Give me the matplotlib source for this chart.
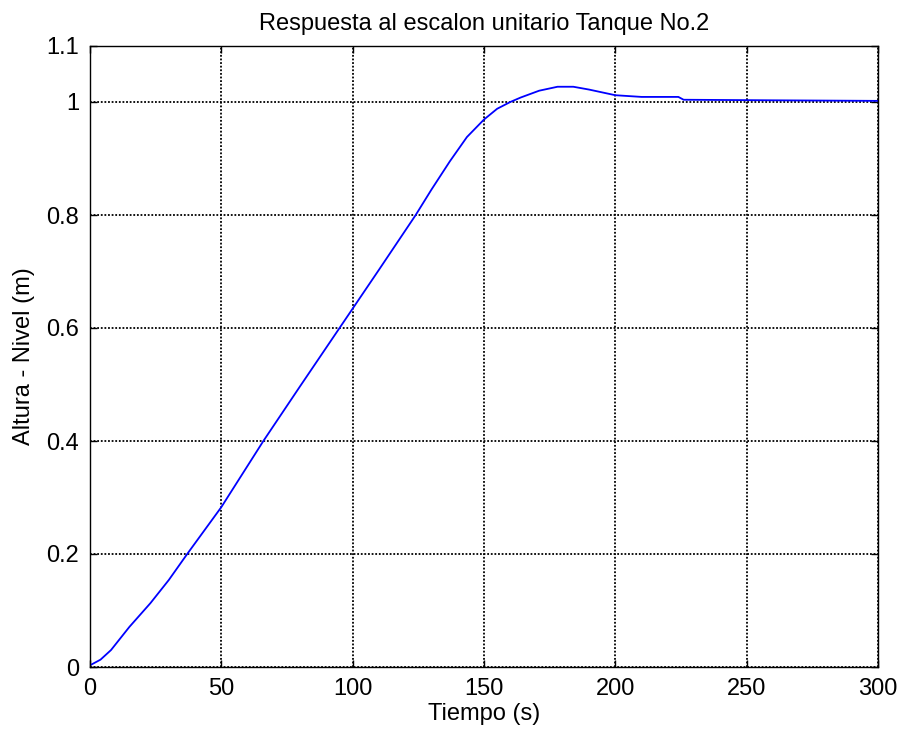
import matplotlib
matplotlib.use("Agg")
from matplotlib import pyplot as plt

# step response
t = [0, 4, 8, 15, 23, 30, 37, 50, 66, 80, 95, 110, 124, 130, 137, 143.5, 150,
     155, 160, 164, 171, 178, 184, 190, 196, 200, 210, 224, 226, 260, 300]
nivel = [0.003, 0.013, 0.03, 0.071, 0.113, 0.154, 0.2, 0.283, 0.4, 0.497, 0.6,
         0.703, 0.8, 0.845, 0.895, 0.938, 0.969, 0.988, 1.0, 1.008, 1.02, 1.027,
         1.027, 1.022, 1.016, 1.012, 1.009, 1.009, 1.004, 1.003, 1.002]

xticks = [0, 50, 100, 150, 200, 250, 300]
yticks = [0, 0.2, 0.4, 0.6, 0.8, 1, 1.1]
yticklabels = ["0", "0.2", "0.4", "0.6", "0.8", "1", "1.1"]

plt.rcParams["font.family"] = ["Liberation Sans", "DejaVu Sans"]
fs = 17

fig = plt.figure(figsize=(9.06, 7.38), dpi=100)
ax = fig.add_axes([90 / 906, 71 / 738, 788 / 906, 621.5 / 738])

ax.plot(t, nivel, color=(0, 0, 1), linewidth=1.3)

ax.set_xlim(0, 300)
ax.set_ylim(0, 1.1)
ax.set_xticks(xticks)
ax.set_yticks(yticks)
ax.set_yticklabels(yticklabels)
ax.tick_params(direction="in", length=5, width=1, labelsize=fs, pad=8,
               top=True, right=True)
ax.grid(True, color="black", linestyle=(0, (1, 1)), linewidth=1.3)
for s in ax.spines.values():
    s.set_linewidth(1.0)

ax.set_title("Respuesta al escalon unitario Tanque No.2", fontsize=fs, pad=11)
ax.set_xlabel("Tiempo (s)", fontsize=fs, labelpad=2)
ax.set_ylabel("Altura - Nivel (m)", fontsize=fs, labelpad=8)

plt.savefig("out.png", dpi=100)
